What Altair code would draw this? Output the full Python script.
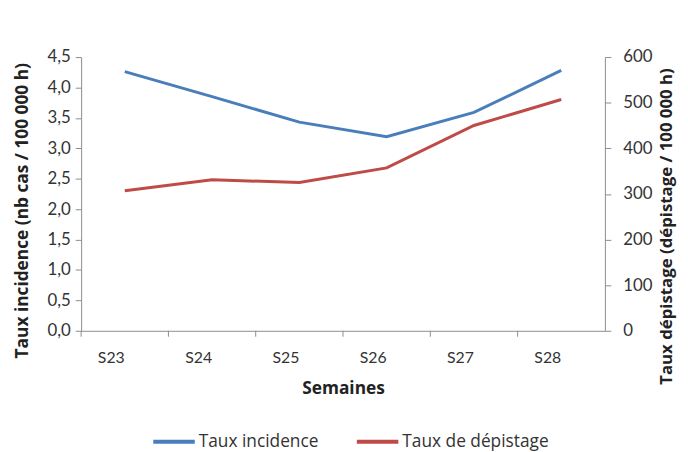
import altair as alt
import pandas as pd

semaines = ["S23", "S24", "S25", "S26", "S27", "S28"]
incidence = [4.26, 3.85, 3.43, 3.19, 3.59, 4.28]
depistage = [307, 331, 325, 357, 450, 507]

df = pd.DataFrame({"Semaine": semaines, "incidence": incidence, "depistage": depistage})

FONT = "Lato"
TFONT = "Open Sans"
series = ["Taux incidence", "Taux de dépistage"]
colors = ["#4A7EBB", "#BE4B48"]

color_scale = alt.Scale(domain=series, range=colors)

x_enc = alt.X("Semaine:N", sort=semaines, title="Semaines",
              scale=alt.Scale(paddingInner=0, paddingOuter=0),
              axis=alt.Axis(labelAngle=0, ticks=False, labelPadding=27,
                            titlePadding=14, domainColor="#8c8c8c"))

base = alt.Chart(df)

ticks = base.mark_rule(color="#8c8c8c").encode(
    x=alt.X("Semaine:N", sort=semaines, bandPosition=0),
    y=alt.value(277), y2=alt.value(283))

line1 = base.mark_line(strokeWidth=3).encode(
    x=x_enc,
    y=alt.Y("incidence:Q", title="Taux incidence (nb cas / 100 000 h)",
            scale=alt.Scale(domain=[0, 4.5]),
            axis=alt.Axis(values=[0, 0.5, 1, 1.5, 2, 2.5, 3, 3.5, 4, 4.5],
                          format=".1f", grid=False, orient="left",
                          tickColor="#8c8c8c", domainColor="#8c8c8c",
                          labelExpr="replace(datum.label, '.', ',')",
                          labelFontSize=17,
                          labelPadding=5, titlePadding=16, titleY=155)),
    color=alt.Color("s:N", scale=color_scale,
                    legend=alt.Legend(orient="none", legendX=71, legendY=366,
                                      title=None, direction="horizontal",
                                      symbolType="stroke", symbolStrokeWidth=4,
                                      symbolSize=1764, labelFontSize=17.5,
                                      labelFont=TFONT, labelOffset=2,
                                      columnPadding=30)),
).transform_calculate(s="'Taux incidence'")

line2 = base.mark_line(strokeWidth=3).encode(
    x=alt.X("Semaine:N", sort=semaines),
    y=alt.Y("depistage:Q", title="Taux dépistage (dépistage / 100 000 h)",
            scale=alt.Scale(domain=[0, 600]),
            axis=alt.Axis(values=[0, 100, 200, 300, 400, 500, 600], grid=False,
                          orient="right", tickColor="#8c8c8c", domainColor="#8c8c8c",
                          labelPadding=12, labelFontSize=17, titleY=171,
                          titleFontSize=17,
                          titleAngle=270, titleBaseline="top", titlePadding=7)),
    color=alt.Color("s:N", scale=color_scale),
).transform_calculate(s="'Taux de dépistage'")

chart = alt.layer(ticks, line1, line2).resolve_scale(y="independent").properties(
    width=530, height=277,
    autosize=alt.AutoSizeParams(type="none"),
    padding={"left": 74, "top": 47, "right": 76, "bottom": 120},
).configure_view(stroke=None).configure_axis(
    labelFont=FONT, titleFont=TFONT, labelFontSize=16, titleFontSize=17.5,
    labelColor="#333", titleColor="#222", titleFontWeight="bold", tickSize=6
).configure_legend(labelColor="#333")

chart.save("out.html", embed_options={"renderer": "svg", "actions": False})
